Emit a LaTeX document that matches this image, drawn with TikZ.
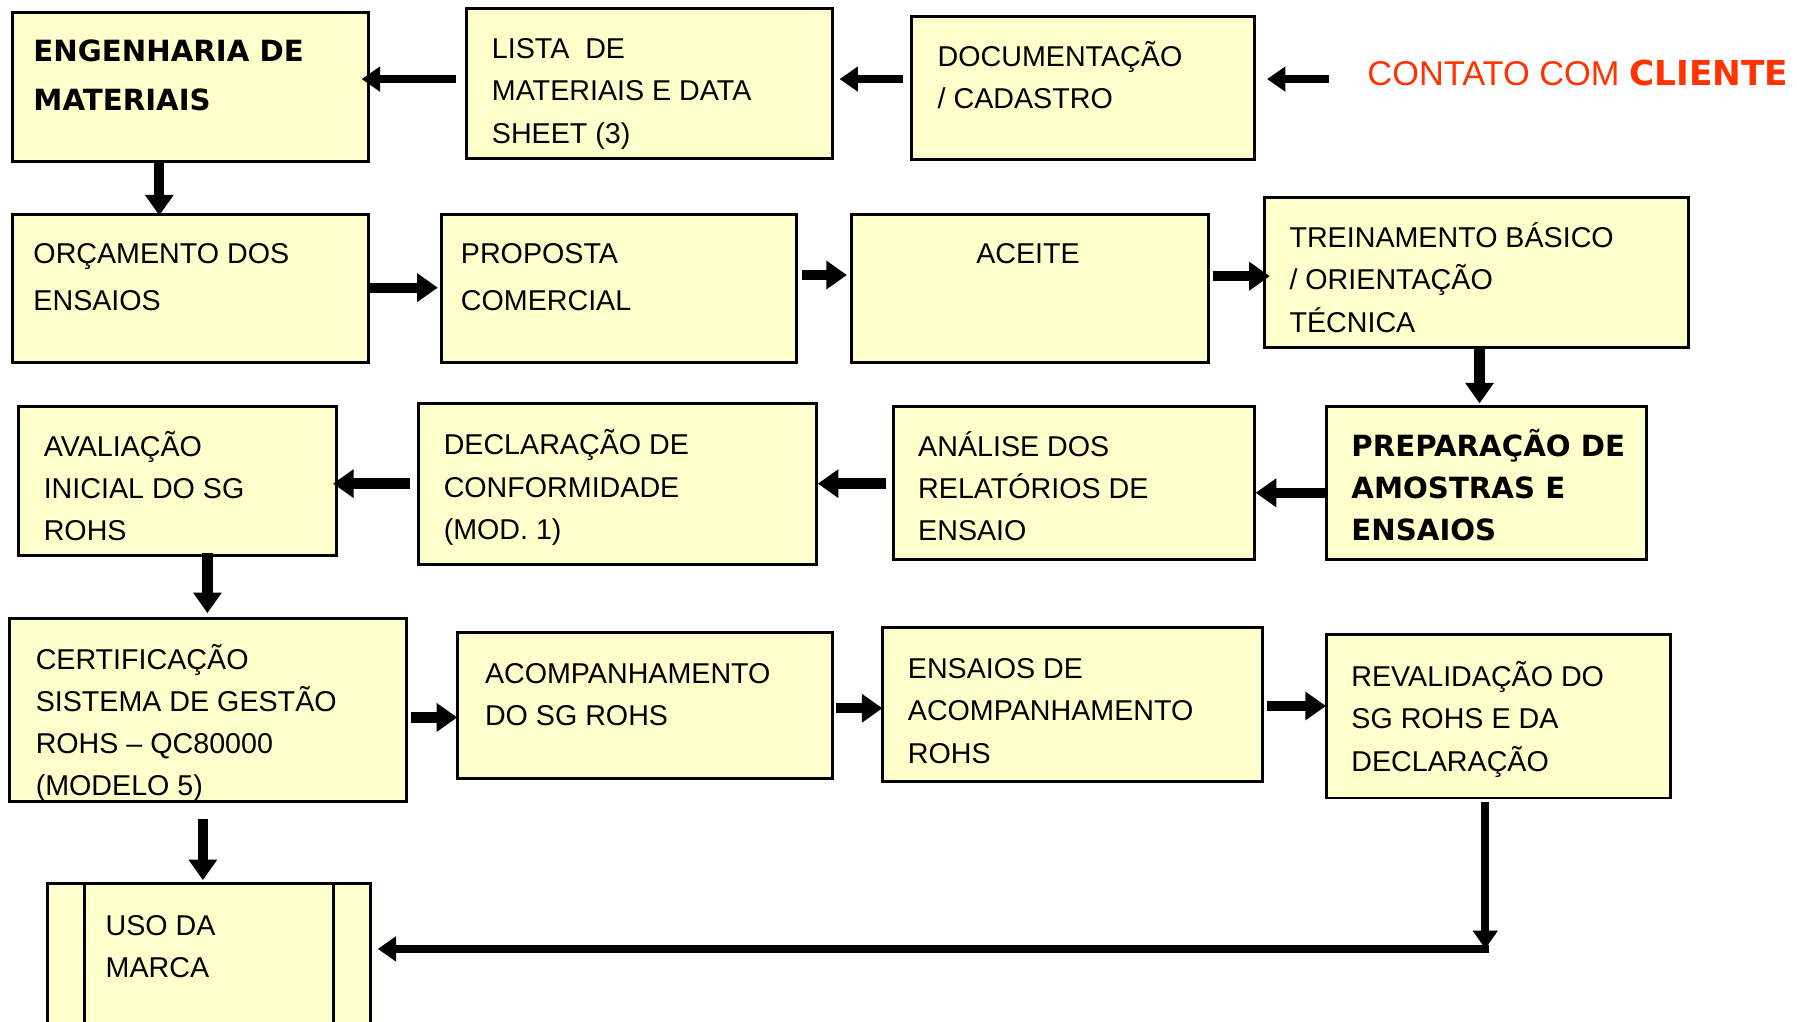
\documentclass[tikz,border=0pt]{standalone}
\usepackage{fontspec}
\setmainfont{Liberation Sans}
\newfontfamily\bfam{DejaVu Sans}
\usetikzlibrary{arrows.meta}
\definecolor{boxfill}{HTML}{FFFFCC}
\definecolor{redtxt}{HTML}{FF3300}
\begin{document}
\begin{tikzpicture}[x=1pt,y=-1pt,
 box/.style={draw=black, line width=2.6pt, fill=boxfill, inner sep=0pt, anchor=north west},
 txt/.style={anchor=base west, align=left, inner sep=0pt, font=\fontsize{25}{37}\selectfont},
 txtw/.style={txt, font=\fontsize{25}{41}\selectfont},
 txtb/.style={txt, font=\fontsize{25.5}{37}\selectfont\bfam\bfseries},
 arr/.style={line width=9pt, -{Triangle[length=18pt,width=24pt]}},
 arrs/.style={line width=7pt, -{Triangle[length=16pt,width=21pt]}},
]
\useasboundingbox (0,0) rectangle (1568,891);
% boxes
\node[box, minimum width=310pt, minimum height=130pt] (eng) at (10,10) {};
\node[box, minimum width=319pt, minimum height=131pt] (lista) at (406,6) {};
\node[box, minimum width=299pt, minimum height=125pt] (doc) at (794,13) {};
\node[box, minimum width=310pt, minimum height=129pt] (orc) at (10,186) {};
\node[box, minimum width=310pt, minimum height=129pt] (prop) at (384,186) {};
\node[box, minimum width=311pt, minimum height=129pt] (aceite) at (742,186) {};
\node[box, minimum width=370pt, minimum height=131pt] (trein) at (1102,171) {};
\node[box, minimum width=279pt, minimum height=134pt] (prep) at (1156,353) {};
\node[box, minimum width=315pt, minimum height=134pt] (anal) at (778,353) {};
\node[box, minimum width=347pt, minimum height=140pt] (decl) at (364,351) {};
\node[box, minimum width=277pt, minimum height=130pt] (aval) at (15,353) {};
\node[box, minimum width=346pt, minimum height=160pt] (cert) at (7,538) {};
\node[box, minimum width=327pt, minimum height=127pt] (acomp) at (398,551) {};
\node[box, minimum width=331pt, minimum height=135pt] (ens) at (769,546) {};
\node[box, minimum width=300pt, minimum height=143pt] (reval) at (1156,552) {};
\node[box, minimum width=282pt, minimum height=140pt] (uso) at (40,770) {};
\draw[line width=2.6pt] ([xshift=34pt]uso.north west) -- ([xshift=34pt]uso.south west);
\draw[line width=2.6pt] ([xshift=-34pt]uso.north east) -- ([xshift=-34pt]uso.south east);
% texts (anchored at the baseline of the last line)
\node[txtb, font=\fontsize{25.5}{42}\selectfont\bfam\bfseries] (eng-t) at (29,96) {ENGENHARIA DE\\MATERIAIS};
\node[txt] (lista-t) at (429,125) {LISTA\ \ DE\\MATERIAIS E DATA\\SHEET (3)};
\node[txt] (doc-t) at (818,95) {DOCUMENTAÇÃO\\/ CADASTRO};
\node[anchor=base west, inner sep=0pt, text=redtxt, font=\fontsize{30}{36}\selectfont] (contato) at (1193,75) {CONTATO COM {\bfam\bfseries CLIENTE}};
\node[txtw] (orc-t) at (29,271) {ORÇAMENTO DOS\\ENSAIOS};
\node[txtw] (prop-t) at (402,271) {PROPOSTA\\COMERCIAL};
\node[txt, anchor=base] (aceite-t) at (897,230) {ACEITE};
\node[txt] (trein-t) at (1125,290) {TREINAMENTO BÁSICO\\/ ORIENTAÇÃO\\TÉCNICA};
\node[txtb] (prep-t) at (1179,472) {PREPARAÇÃO DE\\AMOSTRAS E\\ENSAIOS};
\node[txt] (anal-t) at (801,472) {ANÁLISE DOS\\RELATÓRIOS DE\\ENSAIO};
\node[txt] (decl-t) at (387,471) {DECLARAÇÃO DE\\CONFORMIDADE\\(MOD. 1)};
\node[txt] (aval-t) at (38,472) {AVALIAÇÃO\\INICIAL DO SG\\ROHS};
\node[txt, font=\fontsize{25}{36.7}\selectfont] (cert-t) at (31,694) {CERTIFICAÇÃO\\SISTEMA DE GESTÃO\\ROHS – QC80000\\(MODELO 5)};
\node[txt] (acomp-t) at (423,633) {ACOMPANHAMENTO\\DO SG ROHS};
\node[txt] (ens-t) at (792,666) {ENSAIOS DE\\ACOMPANHAMENTO\\ROHS};
\node[txt] (reval-t) at (1179,673) {REVALIDAÇÃO DO\\SG ROHS E DA\\DECLARAÇÃO};
\node[txt] (uso-t) at (92,853) {USO DA\\MARCA};
% row 1 arrows
\coordinate (cstart) at (1160,69);
\draw[arrs, shorten >=10pt] (cstart) -- (cstart -| doc.east);
\draw[arrs, shorten <=6pt, shorten >=5pt] (doc.west |- cstart) -- (lista.east |- cstart);
\draw[arrs, shorten <=8pt, shorten >=-7pt] (lista.west |- cstart) -- (eng.east |- cstart);
% down eng -> orc
\coordinate (c4) at (139,0);
\draw[arr, shorten >=-2pt] (eng.south -| c4) -- (orc.north -| c4);
% row 2
\coordinate (r5) at (0,251);
\draw[arr, shorten >=2pt] (orc.east |- r5) -- (prop.west |- r5);
\coordinate (r6) at (0,240);
\draw[arr, shorten <=3pt, shorten >=3pt] (prop.east |- r6) -- (aceite.west |- r6);
\coordinate (r7) at (0,241);
\draw[arr, shorten <=3pt, shorten >=-6pt] (aceite.east |- r7) -- (trein.west |- r7);
\coordinate (c8) at (1291,0);
\draw[arr, shorten >=1pt] (trein.south -| c8) -- (prep.north -| c8);
% row 3
\coordinate (r9) at (0,430);
\draw[arr] (prep.west |- r9) -- (anal.east |- r9);
\coordinate (r10) at (0,422);
\draw[arr, shorten <=5pt] (anal.west |- r10) -- (decl.east |- r10);
\draw[arr, shorten <=6pt, shorten >=-4pt] (decl.west |- r10) -- (aval.east |- r10);
\coordinate (c12) at (181,0);
\draw[arr, shorten <=-3pt, shorten >=3pt] (aval.south -| c12) -- (cert.north -| c12);
% row 4
\coordinate (r13) at (0,626);
\draw[arr, shorten <=3pt, shorten >=-1pt] (cert.east |- r13) -- (acomp.west |- r13);
\coordinate (r14) at (0,618);
\draw[arr, shorten <=2pt, shorten >=-1pt] (acomp.east |- r14) -- (ens.west |- r14);
\coordinate (r15) at (0,616);
\draw[arr, shorten <=3pt, shorten >=-1pt] (ens.east |- r15) -- (reval.west |- r15);
\coordinate (c16) at (177,0);
\draw[arr, shorten <=14pt, shorten >=2pt] (cert.south -| c16) -- (uso.north -| c16);
% return path
\coordinate (corner) at (1296,828);
\draw[arrs, shorten <=2pt] (reval.south -| corner) -- (corner);
\draw[arrs, shorten >=5pt, shorten <=-3.5pt] (corner) -- (uso.east |- corner);
\end{tikzpicture}
\end{document}
